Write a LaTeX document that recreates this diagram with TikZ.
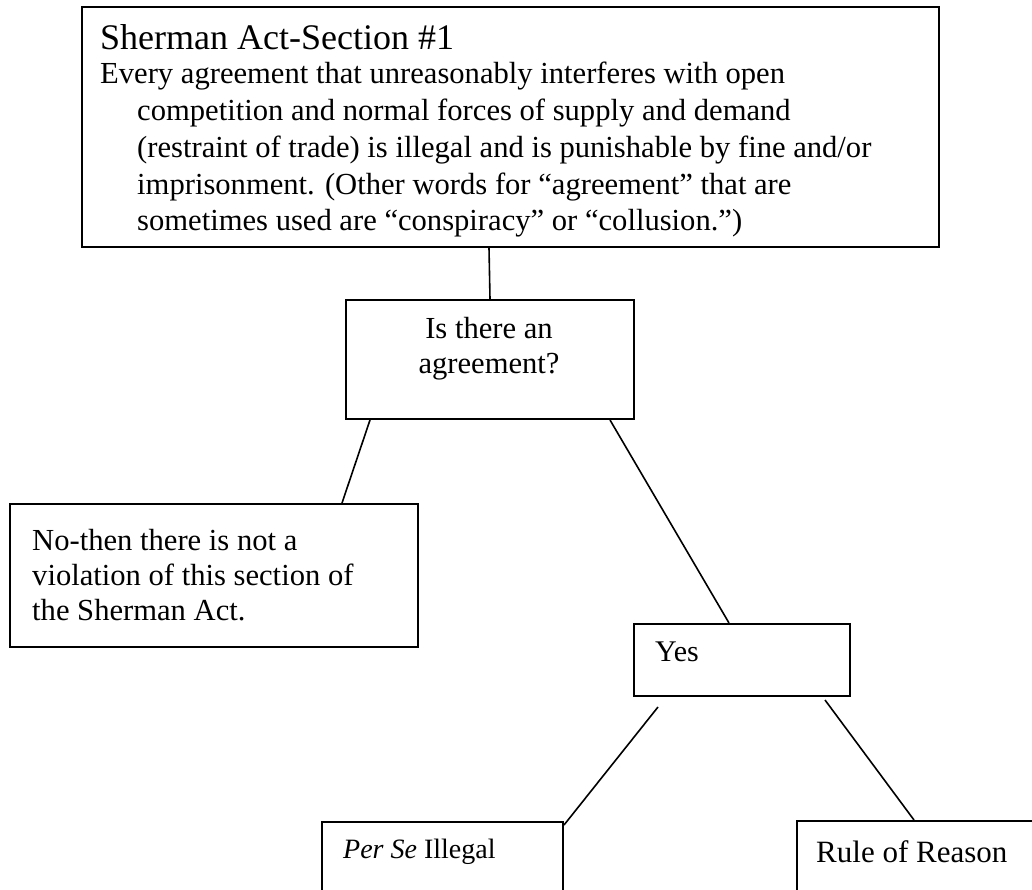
\documentclass[tikz,border=0pt]{standalone}
\usepackage{fontspec}
\setmainfont{Liberation Serif}
\begin{document}
\begin{tikzpicture}[x=1pt,y=-1pt,
  box/.style={draw=black, line width=2pt, rectangle, inner sep=0pt, anchor=north west},
  link/.style={draw=black, line width=1.6pt},
  txt/.style={anchor=base west, inner sep=0pt},
  ctxt/.style={anchor=base, inner sep=0pt},
  title/.style={txt, font=\fontsize{36}{40}\selectfont},
  body/.style={txt, font=\fontsize{30.6}{36}\selectfont},
  cbody/.style={ctxt, font=\fontsize{30.6}{36}\selectfont}]
\useasboundingbox (0,0) rectangle (1032,890);
\clip (0,0) rectangle (1032,890);
% boxes
\node[box, minimum width=857pt, minimum height=240pt] (main) at (81,6) {};
\node[box, minimum width=288pt, minimum height=119pt] (q) at (345,299) {};
\node[box, minimum width=408pt, minimum height=143pt] (no) at (9,503) {};
\node[box, minimum width=216pt, minimum height=72pt] (yes) at (633,623) {};
\node[box, minimum width=241pt, minimum height=120pt] (perse) at (321,821) {};
\node[box, minimum width=300pt, minimum height=120pt] (rule) at (796,820) {};
% texts
\node[title] (t0) at (100,50) {Sherman Act-Section \#1};
\node[body] (t1) at (100,84) {Every agreement that unreasonably interferes with open};
\node[body] (t2) at (137,121) {competition and normal forces of supply and demand};
\node[body] (t3) at (137,158) {(restraint of trade) is illegal and is punishable by fine and/or};
\node[body] (t4) at (137,195) {imprisonment. (Other words for \textquotedblleft agreement\textquotedblright{} that are};
\node[body] (t5) at (137,231) {sometimes used are \textquotedblleft conspiracy\textquotedblright{} or \textquotedblleft collusion.\textquotedblright)};
\node[cbody] (q1) at (489,338) {Is there an};
\node[cbody] (q2) at (489,373) {agreement?};
\node[body] (n1) at (32,550) {No-then there is not a};
\node[body] (n2) at (32,585) {violation of this section of};
\node[body] (n3) at (32,620) {the Sherman Act.};
\node[txt, font=\fontsize{30}{34}\selectfont] (y1) at (655,661) {Yes};
\node[txt, font=\fontsize{28}{34}\selectfont] (p1) at (343,858) {\textit{Per Se} Illegal};
\node[txt, font=\fontsize{31}{36}\selectfont] (r1) at (816,862) {Rule of Reason};
% connectors
\coordinate (ya) at (658,707);
\coordinate (yb) at (825,700);
\draw[link] ([xshift=408pt]main.south west) -- (q.north);
\draw[link] ([xshift=25pt]q.south west) -- ([xshift=333pt]no.north west);
\draw[link] ([xshift=265pt]q.south west) -- ([xshift=96pt]yes.north west);
\draw[link] (ya) -- ([yshift=-4pt]perse.north east);
\draw[link] (yb) -- ([xshift=118pt]rule.north west);
\end{tikzpicture}
\end{document}
